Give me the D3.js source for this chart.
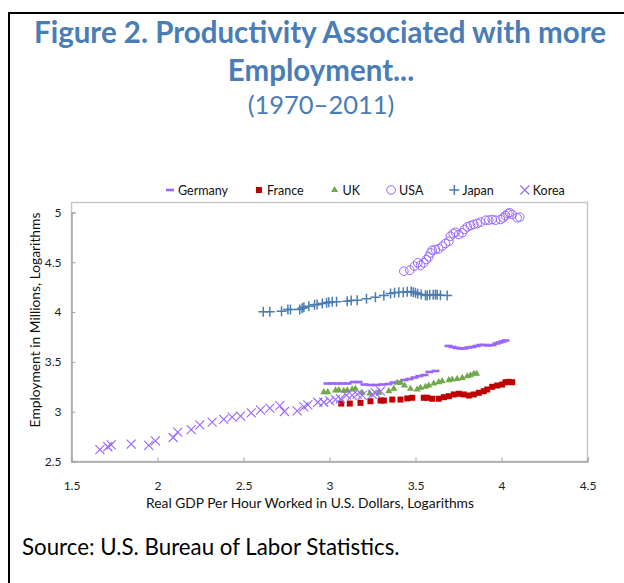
<!DOCTYPE html>
<html>
<head>
<meta charset="utf-8">
<script src="https://cdn.jsdelivr.net/npm/d3@7"></script>
<style>
  body { margin: 0; background: #fff; }
  svg { display: block; }
  text { font-family: Lato, "Noto Sans", sans-serif; }
</style>
</head>
<body>
<svg id="chart" width="624" height="583"></svg>
<script>
// values: [GDP per hour (log), employment (log)]
var germany = [[2.988,3.283],[3.017,3.283],[3.047,3.283],[3.076,3.283],[3.105,3.283],[3.140,3.298],[3.169,3.298],
  [3.203,3.273],[3.238,3.268],[3.273,3.268],[3.308,3.273],[3.343,3.278],[3.372,3.293],[3.401,3.298],[3.436,3.318],
  [3.465,3.328],[3.494,3.343],[3.523,3.358],[3.552,3.368],[3.581,3.399],[3.616,3.409],
  [3.692,3.660],[3.715,3.650],[3.738,3.640],[3.762,3.635],[3.785,3.635],[3.808,3.645],[3.831,3.650],[3.855,3.660],
  [3.878,3.670],[3.901,3.670],[3.924,3.665],[3.948,3.670],[3.971,3.685],[3.988,3.695],[4.006,3.705],[4.023,3.715]]
var france = [[3.068,3.082],[3.118,3.082],[3.180,3.089],[3.238,3.105],[3.297,3.112],[3.316,3.112],[3.365,3.122],
  [3.413,3.122],[3.452,3.133],[3.481,3.140],[3.548,3.140],[3.568,3.140],[3.597,3.130],[3.635,3.130],[3.665,3.146],
  [3.694,3.156],[3.723,3.173],[3.752,3.180],[3.781,3.173],[3.810,3.163],[3.839,3.173],[3.868,3.190],[3.897,3.206],
  [3.917,3.223],[3.946,3.250],[3.975,3.263],[4.004,3.273],[4.023,3.296],[4.042,3.300],[4.062,3.296]]
var uk = [[2.967,3.196],[2.990,3.196],[3.035,3.213],[3.054,3.216],[3.083,3.210],[3.103,3.213],[3.132,3.223],
  [3.151,3.230],[3.190,3.190],[3.234,3.183],[3.287,3.190],[3.345,3.206],[3.374,3.230],[3.394,3.290],[3.413,3.290],
  [3.436,3.263],[3.471,3.230],[3.510,3.223],[3.529,3.240],[3.558,3.250],[3.577,3.263],[3.606,3.283],[3.635,3.296],
  [3.655,3.306],[3.694,3.316],[3.713,3.323],[3.742,3.330],[3.772,3.340],[3.801,3.356],[3.820,3.366],[3.839,3.381],
  [3.855,3.381]]
var usa = [[3.432,4.411],[3.467,4.421],[3.494,4.461],[3.513,4.495],[3.529,4.468],[3.548,4.495],[3.564,4.528],
  [3.577,4.555],[3.587,4.595],[3.597,4.621],[3.616,4.628],[3.635,4.636],[3.655,4.662],[3.674,4.689],[3.694,4.712],
  [3.703,4.762],[3.719,4.789],[3.733,4.802],[3.752,4.779],[3.772,4.796],[3.785,4.829],[3.801,4.856],[3.820,4.869],
  [3.839,4.880],[3.859,4.890],[3.878,4.903],[3.907,4.923],[3.926,4.923],[3.946,4.930],[3.965,4.923],[3.994,4.930],
  [4.010,4.947],[4.023,4.970],[4.037,4.990],[4.048,4.997],[4.062,4.980],[4.091,4.947],[4.106,4.953]]
var japan = [[2.615,4.003],[2.653,4.003],[2.721,4.009],[2.758,4.026],[2.773,4.026],[2.827,4.026],[2.841,4.039],
  [2.851,4.049],[2.880,4.059],[2.913,4.073],[2.928,4.076],[2.958,4.086],[2.983,4.093],[2.996,4.099],[3.016,4.103],
  [3.041,4.103],[3.103,4.109],[3.126,4.116],[3.161,4.119],[3.215,4.133],[3.267,4.150],[3.316,4.167],[3.355,4.187],
  [3.378,4.194],[3.403,4.200],[3.429,4.200],[3.452,4.204],[3.475,4.207],[3.487,4.200],[3.500,4.194],[3.513,4.184],
  [3.533,4.177],[3.558,4.170],[3.568,4.167],[3.583,4.174],[3.603,4.174],[3.616,4.177],[3.626,4.174],[3.645,4.170],
  [3.684,4.167]]
var korea = [[1.665,2.620],[1.711,2.648],[1.731,2.668],[1.847,2.674],[1.949,2.661],[1.988,2.708],[2.091,2.741],
  [2.118,2.794],[2.196,2.821],[2.246,2.868],[2.318,2.895],[2.385,2.922],[2.434,2.945],[2.483,2.955],[2.545,2.989],
  [2.599,3.015],[2.653,3.035],[2.711,3.062],[2.738,3.002],[2.812,3.009],[2.851,3.049],[2.874,3.069],[2.932,3.095],
  [2.967,3.095],[3.002,3.109],[3.035,3.122],[3.064,3.130],[3.099,3.166],[3.132,3.163],[3.161,3.173],[3.190,3.163],
  [3.248,3.173],[3.267,3.190],[3.297,3.206]]

var countries = ["Germany", "France", "UK", "USA", "Japan", "Korea"]
var xTicks = [1.5, 2, 2.5, 3, 3.5, 4, 4.5]
var yTicks = [2.5, 3, 3.5, 4, 4.5, 5]

var purple = "#9966ff"
var styles = {
    "Germany": { data: germany, shape: "dash", color: purple },
    "France": { data: france, shape: "square", color: "#c00000" },
    "UK": { data: uk, shape: "triangle", color: "#70a84a" },
    "USA": { data: usa, shape: "circle", color: purple },
    "Japan": { data: japan, shape: "plus", color: "#4a7db5" },
    "Korea": { data: korea, shape: "cross", color: purple }
}

var svg = d3.select("#chart")

// outer frame of the figure
svg.append("rect")
    .attr("x", 9).attr("y", 13)
    .attr("width", 660).attr("height", 620)
    .attr("fill", "none").attr("stroke", "#000").attr("stroke-width", 2)

// title
var titleColor = "#4a7db5"
svg.append("text").attr("x", 320).attr("y", 43)
    .attr("text-anchor", "middle").attr("fill", titleColor)
    .style("font-size", "29.5px").style("font-weight", "bold")
    .text("Figure 2. Productivity Associated with more")
svg.append("text").attr("x", 321).attr("y", 81)
    .attr("text-anchor", "middle").attr("fill", titleColor)
    .style("font-size", "29.5px").style("font-weight", "bold")
    .text("Employment...")
svg.append("text").attr("x", 321).attr("y", 114)
    .attr("text-anchor", "middle").attr("fill", titleColor)
    .style("font-size", "25.5px")
    .text("(1970\u20132011)")

var xScale = d3.scaleLinear().domain([1.5, 4.5]).range([71.5, 587.5])
var yScale = d3.scaleLinear().domain([2.5, 5]).range([461.5, 212.5])

// plot box
var boxTop = yScale(5) - 10
svg.append("rect")
    .attr("x", xScale(1.5)).attr("y", boxTop)
    .attr("width", xScale(4.5) - xScale(1.5))
    .attr("height", yScale(2.5) - boxTop)
    .attr("fill", "none").attr("stroke", "#c8c8c8").attr("stroke-width", 1.5)

var xAxis = svg.append("g")
    .attr("transform", "translate(0," + yScale(2.5) + ")")
    .call(d3.axisBottom(xScale).tickValues(xTicks).tickSize(-4).tickPadding(20)
        .tickFormat(function (d) { return String(d) }))
var yAxis = svg.append("g")
    .attr("transform", "translate(" + xScale(1.5) + ",0)")
    .call(d3.axisLeft(yScale).tickValues(yTicks).tickSize(-4).tickPadding(10)
        .tickFormat(function (d) { return String(d) }))

;[xAxis, yAxis].forEach(function (ax) {
    ax.select(".domain").attr("stroke", "#a6a6a6").attr("stroke-width", 1.5)
    ax.selectAll(".tick line").attr("stroke", "#a6a6a6")
    ax.selectAll(".tick text").attr("fill", "#222")
        .style("font-size", "12px").style("font-family", "Lato, sans-serif")
})

svg.append("text").attr("x", 310).attr("y", 508)
    .attr("text-anchor", "middle").attr("fill", "#111")
    .style("font-size", "13.8px")
    .text("Real GDP Per Hour Worked in U.S. Dollars, Logarithms")
svg.append("text")
    .attr("transform", "translate(40,320) rotate(-90)")
    .attr("text-anchor", "middle").attr("fill", "#111")
    .style("font-size", "13.8px")
    .text("Employment in Millions, Logarithms")

// one marker per shape
function drawMarker(g, shape, color) {
    if (shape == "dash") {
        g.append("rect").attr("x", -4).attr("y", -1.3).attr("width", 8).attr("height", 2.6).attr("fill", color)
    } else if (shape == "square") {
        g.append("rect").attr("x", -3).attr("y", -3).attr("width", 6).attr("height", 6).attr("fill", color)
    } else if (shape == "triangle") {
        g.append("path").attr("d", d3.symbol(d3.symbolTriangle, 22)()).attr("fill", color)
    } else if (shape == "circle") {
        g.append("circle").attr("r", 4.3).attr("fill", "none").attr("stroke", color).attr("stroke-width", 1)
    } else if (shape == "plus") {
        g.append("path").attr("d", "M-5,0H5M0,-5V5").attr("stroke", color).attr("stroke-width", 1.5)
    } else if (shape == "cross") {
        g.append("path").attr("d", "M-4.5,-4.5L4.5,4.5M-4.5,4.5L4.5,-4.5").attr("stroke", color).attr("stroke-width", 1.1)
    }
}

countries.forEach(function (name) {
    var s = styles[name]
    svg.append("g").selectAll("g")
        .data(s.data)
        .enter().append("g")
        .attr("transform", function (d) { return "translate(" + xScale(d[0]) + "," + yScale(d[1]) + ")" })
        .each(function () { drawMarker(d3.select(this), s.shape, s.color) })
})

// legend
var legendX = 170
countries.forEach(function (name) {
    var s = styles[name]
    var item = svg.append("g").attr("transform", "translate(" + legendX + ",190)")
    drawMarker(item, s.shape, s.color)
    var t = item.append("text").attr("x", 8).attr("y", 4.5)
        .attr("fill", "#111").style("font-size", "12.5px").text(name)
    legendX += 8 + t.node().getComputedTextLength() + 31
})

svg.append("text").attr("x", 22).attr("y", 555)
    .attr("fill", "#000").style("font-size", "22.3px")
    .text("Source: U.S. Bureau of Labor Statistics.")
</script>
</body>
</html>
